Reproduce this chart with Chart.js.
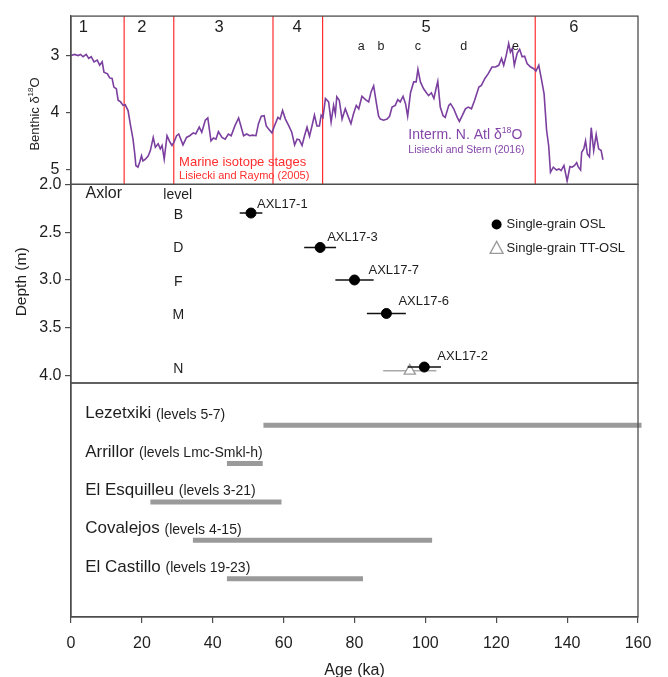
<!DOCTYPE html>
<html>
<head>
<meta charset="utf-8">
<script src="https://cdn.jsdelivr.net/npm/chart.js@4/dist/chart.umd.min.js"></script>
<style>
  html, body { margin: 0; padding: 0; background: #fff; }
  #wrap { width: 668px; height: 677px; }
</style>
</head>
<body>
<div id="wrap"><canvas id="chart" width="668" height="677"></canvas></div>
<script>
// benthic d18O record (Lisiecki and Stern 2016)
const isoAge = [
  0, 1.0, 2.0, 2.7, 3.4, 4.3, 5.0, 5.7, 6.5, 7.4,
  8.1, 8.8, 9.3, 10.3, 10.9, 11.6, 12.1, 12.8, 13.3, 14.0,
  14.7, 15.3, 16.1, 16.8, 17.5, 18.0, 18.3, 18.9, 19.4, 19.9,
  20.3, 21.0, 21.8, 22.4, 23.2, 23.8, 24.6, 25.2, 25.7, 26.3,
  27.1, 27.9, 28.5, 29.1, 29.8, 30.4, 31.6, 32.6, 33.5, 34.5,
  35.2, 36.2, 36.9, 37.9, 38.6, 39.5, 40.2, 40.9, 41.6, 42.6,
  43.5, 44.4, 45.2, 46.3, 47.3, 47.9, 48.7, 49.6, 50.4, 51.2,
  52.2, 52.9, 53.7, 54.5, 55.1, 55.7, 56.7, 57.4, 58.4, 59.0,
  59.7, 60.5, 61.4, 62.3, 63.1, 63.8, 64.4, 65.2, 65.9, 66.6,
  67.3, 68.0, 68.7, 69.4, 70.1, 70.6, 71.1, 71.8, 72.7, 73.4,
  74.1, 74.6, 75.0, 75.7, 76.5, 77.4, 78.3, 79.0, 79.7, 80.5,
  81.2, 82.1, 83.1, 84.0, 84.7, 85.4, 86.2, 86.8, 87.3, 88.2,
  89.2, 89.9, 90.6, 91.5, 92.2, 92.9, 93.7, 94.4, 95.0, 95.8,
  96.7, 97.4, 97.9, 98.6, 99.5, 100.3, 100.9, 101.7, 102.4, 103.0,
  103.5, 104.2, 105.0, 105.6, 106.6, 107.1, 108.0, 109.0, 109.6, 110.4,
  111.3, 112.1, 113.0, 113.9, 115.1, 115.8, 116.8, 117.7, 118.8, 119.8,
  120.7, 121.5, 122.1, 122.8, 123.5, 124.0, 124.5, 125.1, 125.9, 126.6,
  127.3, 128.0, 128.7, 129.7, 130.6, 131.2, 132.0, 132.8, 133.5, 134.2,
  134.8, 135.3, 136.1, 137.0, 137.7, 138.3, 139.1, 140.0, 140.8, 141.4,
  142.1, 142.7, 143.1, 143.8, 144.1, 144.7, 145.2, 145.7, 146.3, 146.8,
  147.5, 148.2, 148.9, 149.6, 150.1
];
const isoD18O = [
  3.00, 2.98, 3.00, 2.98, 3.02, 2.98, 3.05, 3.02, 3.11, 3.08,
  3.17, 3.11, 3.29, 3.32, 3.39, 3.40, 3.55, 3.58, 3.78, 3.81,
  3.87, 3.86, 3.96, 4.22, 4.46, 4.72, 4.92, 4.95, 4.86, 4.75,
  4.84, 4.81, 4.75, 4.66, 4.43, 4.60, 4.54, 4.63, 4.57, 4.81,
  4.40, 4.51, 4.57, 4.51, 4.40, 4.37, 4.56, 4.43, 4.40, 4.35,
  4.37, 4.25, 4.34, 4.13, 4.09, 4.49, 4.44, 4.46, 4.33, 4.43,
  4.46, 4.37, 4.40, 4.22, 4.09, 4.22, 4.40, 4.37, 4.40, 4.39,
  4.40, 4.19, 4.06, 4.05, 4.23, 4.28, 4.35, 4.23, 4.08, 4.11,
  3.96, 4.11, 4.22, 4.34, 4.56, 4.46, 4.47, 4.57, 4.40, 4.25,
  4.41, 4.23, 4.04, 4.23, 4.23, 4.04, 4.08, 3.75, 3.81, 4.16,
  3.87, 4.02, 3.72, 3.78, 4.11, 3.93, 4.08, 4.19, 4.02, 3.87,
  3.93, 3.71, 3.77, 3.81, 3.63, 3.53, 3.84, 4.06, 4.11, 4.13,
  4.11, 4.06, 3.90, 3.87, 3.77, 3.81, 3.71, 3.84, 4.06, 3.65,
  3.46, 3.46, 3.24, 3.46, 3.58, 3.65, 3.70, 3.65, 3.75, 3.58,
  3.45, 3.90, 4.05, 4.08, 3.87, 3.84, 3.93, 4.08, 4.15, 4.05,
  3.93, 3.90, 3.93, 3.78, 3.55, 3.52, 3.40, 3.32, 3.20, 3.20,
  3.17, 3.05, 3.17, 3.00, 2.79, 2.94, 2.88, 3.17, 2.96, 2.89,
  3.02, 3.01, 3.14, 3.20, 3.23, 3.27, 3.17, 3.43, 3.67, 4.30,
  4.58, 5.04, 4.95, 5.00, 4.98, 5.01, 4.92, 5.19, 4.94, 4.95,
  4.92, 4.87, 4.94, 5.00, 4.69, 4.63, 4.49, 4.72, 4.77, 4.26,
  4.66, 4.38, 4.63, 4.66, 4.82
];
const isoTicks = [3, 4, 5];

// marine isotope stages (Lisiecki and Raymo 2005)
const misBounds = [15, 29, 57, 71, 131];
const misNames = ['1', '2', '3', '4', '5', '6'];
const misLabelAge = [3.5, 20.0, 41.8, 63.8, 100.2, 141.9];
const subNames = ['a', 'b', 'c', 'd', 'e'];
const subAge = [81.9, 87.5, 97.9, 110.8, 125.4];

// Axlor single-grain ages
const sampleNames = ['AXL17-1', 'AXL17-3', 'AXL17-7', 'AXL17-6', 'AXL17-2'];
const oslAge = [50.8, 70.3, 80.0, 89.0, 99.7];
const oslErr = [3.2, 4.5, 5.4, 5.5, 4.7];
const sampleDepth = [2.30, 2.66, 3.00, 3.35, 3.91];
const ttAge = [95.6];
const ttErr = [7.5];
const ttDepth = [3.95];
const depthTicks = [2.0, 2.5, 3.0, 3.5, 4.0];
const levelNames = ['B', 'D', 'F', 'M', 'N'];
const levelDepth = [2.32, 2.67, 3.02, 3.37, 3.93];

// other sites
const siteNames = ['Lezetxiki', 'Arrillor', 'El Esquilleu', 'Covalejos', 'El Castillo'];
const siteLevels = ['(levels 5-7)', '(levels Lmc-Smkl-h)', '(levels 3-21)', '(levels 4-15)', '(levels 19-23)'];
const siteStart = [54.3, 44.0, 22.4, 34.4, 44.0];
const siteEnd = [161.0, 54.1, 59.4, 101.9, 82.4];

const ageTicks = [0, 20, 40, 60, 80, 100, 120, 140, 160];

const FONT = '"Liberation Sans", Arial, sans-serif';
const purple = '#7b3f9f';
const red = '#ff2d2d';
const frame = '#4d4d4d';
const ink = '#1e1e1e';
const barGray = '#9a9a9a';

// label offsets in px from the dot
const labelDx = [6, 7, 14, 12, 13];
const labelDy = [-9, -10, -10, -12, -11];

const datasets = [];
datasets.push({
  type: 'scatter', data: oslAge.map((a, i) => ({x: a, y: sampleDepth[i]})),
  yAxisID: 'yDepth', pointRadius: 5, pointHoverRadius: 5,
  backgroundColor: '#000', borderColor: '#000', order: 0
});
oslAge.forEach((a, i) => datasets.push({
  type: 'line', data: [{x: a - oslErr[i], y: sampleDepth[i]}, {x: a + oslErr[i], y: sampleDepth[i]}],
  yAxisID: 'yDepth', borderColor: '#111', borderWidth: 1.5, pointRadius: 0, order: 1
}));
datasets.push({
  type: 'scatter', data: ttAge.map((a, i) => ({x: a, y: ttDepth[i]})),
  yAxisID: 'yDepth', pointStyle: 'triangle', pointRadius: 6.5, pointHoverRadius: 6.5,
  backgroundColor: '#fff', borderColor: '#9a9a9a', borderWidth: 1.3, order: 2
});
ttAge.forEach((a, i) => datasets.push({
  type: 'line', data: [{x: a - ttErr[i], y: ttDepth[i]}, {x: a + ttErr[i], y: ttDepth[i]}],
  yAxisID: 'yDepth', borderColor: '#aaa', borderWidth: 1.5, pointRadius: 0, order: 3
}));
datasets.push({
  type: 'line', data: isoAge.map((a, i) => ({x: a, y: isoD18O[i]})),
  yAxisID: 'yIso', borderColor: purple, borderWidth: 1.6, pointRadius: 0, tension: 0, order: 4
});
siteNames.forEach((s, i) => datasets.push({
  type: 'line', data: [{x: siteStart[i], y: i + 1}, {x: siteEnd[i], y: i + 1}],
  yAxisID: 'ySite', borderColor: barGray, borderWidth: 5, borderCapStyle: 'butt',
  pointRadius: 0, clip: false, order: 5
}));

function txt(ctx, s, x, y, size, color, align) {
  ctx.font = size + 'px ' + FONT;
  ctx.fillStyle = color;
  ctx.textAlign = align || 'left';
  ctx.textBaseline = 'middle';
  ctx.fillText(s, x, y);
}

// text with a superscript "18"
function txtIso(ctx, pre, post, x, y, size, color, align) {
  const sup = size * 0.62;
  ctx.font = size + 'px ' + FONT;
  const w1 = ctx.measureText(pre).width;
  const w3 = ctx.measureText(post).width;
  ctx.font = sup + 'px ' + FONT;
  const w2 = ctx.measureText('18').width;
  const x0 = align === 'center' ? x - (w1 + w2 + w3) / 2 : x;
  ctx.fillStyle = color;
  ctx.textAlign = 'left';
  ctx.textBaseline = 'middle';
  ctx.font = size + 'px ' + FONT;
  ctx.fillText(pre, x0, y);
  ctx.fillText(post, x0 + w1 + w2, y);
  ctx.font = sup + 'px ' + FONT;
  ctx.fillText('18', x0 + w1, y - size * 0.3);
}

const decor = {
  id: 'decor',
  beforeDatasetsDraw(chart) {
    const {ctx, scales} = chart;
    const x = scales.x, yI = scales.yIso;
    ctx.save();
    ctx.strokeStyle = red;
    ctx.lineWidth = 1.2;
    misBounds.forEach(b => {
      const px = x.getPixelForValue(b);
      ctx.beginPath();
      ctx.moveTo(px, yI.top);
      ctx.lineTo(px, yI.bottom);
      ctx.stroke();
    });
    ctx.restore();
  },
  afterDraw(chart) {
    const {ctx, scales, chartArea} = chart;
    const x = scales.x, yI = scales.yIso, yD = scales.yDepth, yS = scales.ySite;
    ctx.save();

    // panel frames
    ctx.strokeStyle = frame;
    ctx.lineWidth = 1.3;
    [yI, yD, yS].forEach(s => {
      ctx.strokeRect(chartArea.left, s.top, chartArea.right - chartArea.left, s.bottom - s.top);
    });

    // axis titles
    ctx.save();
    ctx.translate(35, yI.getPixelForValue(4.02));
    ctx.rotate(-Math.PI / 2);
    txtIso(ctx, 'Benthic \u03b4', 'O', 0, 0, 13, ink, 'center');
    ctx.restore();
    ctx.save();
    ctx.translate(21.5, yD.getPixelForValue(3.02));
    ctx.rotate(-Math.PI / 2);
    txt(ctx, 'Depth (m)', 0, 0, 15.5, ink, 'center');
    ctx.restore();

    // top panel labels
    misNames.forEach((n, i) => txt(ctx, n, x.getPixelForValue(misLabelAge[i]), yI.getPixelForValue(2.51), 16.5, ink, 'center'));
    subNames.forEach((n, i) => txt(ctx, n, x.getPixelForValue(subAge[i]), yI.getPixelForValue(2.84), 12.5, ink, 'center'));
    txt(ctx, 'Marine isotope stages', x.getPixelForValue(30.5), yI.getPixelForValue(4.87), 13, red);
    txt(ctx, 'Lisiecki and Raymo (2005)', x.getPixelForValue(30.5), yI.getPixelForValue(5.11), 11, red);
    txtIso(ctx, 'Interm. N. Atl \u03b4', 'O', x.getPixelForValue(95.2), yI.getPixelForValue(4.39), 14, '#8446a8');
    txt(ctx, 'Lisiecki and Stern (2016)', x.getPixelForValue(95.2), yI.getPixelForValue(4.66), 10.5, '#8446a8');

    // middle panel labels
    txt(ctx, 'Axlor', x.getPixelForValue(4.1), yD.getPixelForValue(2.10), 16, ink);
    txt(ctx, 'level', x.getPixelForValue(30.1), yD.getPixelForValue(2.11), 14, ink, 'center');
    levelNames.forEach((n, i) => txt(ctx, n, x.getPixelForValue(30.3), yD.getPixelForValue(levelDepth[i]), 14, ink, 'center'));
    sampleNames.forEach((n, i) => {
      txt(ctx, n, x.getPixelForValue(oslAge[i]) + labelDx[i], yD.getPixelForValue(sampleDepth[i]) + labelDy[i], 13, ink);
    });

    // legend
    const lx = x.getPixelForValue(120.1);
    const ly1 = yD.getPixelForValue(2.42), ly2 = yD.getPixelForValue(2.67);
    ctx.fillStyle = '#000';
    ctx.beginPath();
    ctx.arc(lx, ly1, 5, 0, Math.PI * 2);
    ctx.fill();
    ctx.strokeStyle = '#9a9a9a';
    ctx.lineWidth = 1.3;
    ctx.beginPath();
    ctx.moveTo(lx, ly2 - 7);
    ctx.lineTo(lx + 6.5, ly2 + 5);
    ctx.lineTo(lx - 6.5, ly2 + 5);
    ctx.closePath();
    ctx.stroke();
    txt(ctx, 'Single-grain OSL', lx + 10, ly1, 13, ink);
    txt(ctx, 'Single-grain TT-OSL', lx + 10, ly2, 13, ink);

    // site labels
    siteNames.forEach((n, i) => {
      const px = x.getPixelForValue(4.0), py = yS.getPixelForValue(i + 0.7);
      txt(ctx, n, px, py, 17, ink);
      ctx.font = '17px ' + FONT;
      const w = ctx.measureText(n + ' ').width;
      txt(ctx, siteLevels[i], px + w, py + 1, 14, ink);
    });

    ctx.restore();
  }
};

const yBase = {
  type: 'linear', position: 'left', stack: 'panels', reverse: true,
  afterFit: s => { s.width = 71; },
  border: {color: frame, width: 1.3},
  grid: {drawOnChartArea: false, color: frame, lineWidth: 1.2}
};

// stacked panels: the scale listed first ends up at the bottom
new Chart(document.getElementById('chart'), {
  data: {datasets},
  options: {
    responsive: false,
    animation: false,
    devicePixelRatio: 1,
    events: [],
    layout: {padding: {top: 12, right: 30, left: 0, bottom: 0}},
    plugins: {legend: {display: false}, tooltip: {enabled: false}},
    scales: {
      x: {
        type: 'linear', position: 'bottom', min: 0, max: 160,
        afterFit: s => { s.height = 60; },
        afterBuildTicks: s => { s.ticks = ageTicks.map(v => ({value: v})); },
        ticks: {padding: 11, color: ink, font: {family: FONT, size: 16}},
        grid: {drawOnChartArea: false, tickLength: 6, color: frame, lineWidth: 1.2},
        border: {color: frame, width: 1.3},
        title: {display: true, text: 'Age (ka)', color: ink, padding: {top: 0, bottom: -2},
                font: {family: FONT, size: 16, lineHeight: 1}}
      },
      ySite: Object.assign({}, yBase, {
        stackWeight: 235.6, min: -0.1, max: 6.0,
        ticks: {display: false},
        grid: {display: false}
      }),
      yDepth: Object.assign({}, yBase, {
        stackWeight: 200, min: 2.0, max: 4.077,
        afterBuildTicks: s => { s.ticks = depthTicks.map(v => ({value: v})); },
        ticks: {padding: 3.5, color: ink, font: {family: FONT, size: 16},
                callback: v => Number(v).toFixed(1)},
        grid: Object.assign({}, yBase.grid, {tickLength: 6})
      }),
      yIso: Object.assign({}, yBase, {
        stackWeight: 169.4, min: 2.31, max: 5.25,
        afterBuildTicks: s => { s.ticks = isoTicks.map(v => ({value: v})); },
        ticks: {padding: 6.5, color: ink, font: {family: FONT, size: 16}},
        grid: Object.assign({}, yBase.grid, {tickLength: 5})
      })
    }
  },
  plugins: [decor]
});
</script>
</body>
</html>
